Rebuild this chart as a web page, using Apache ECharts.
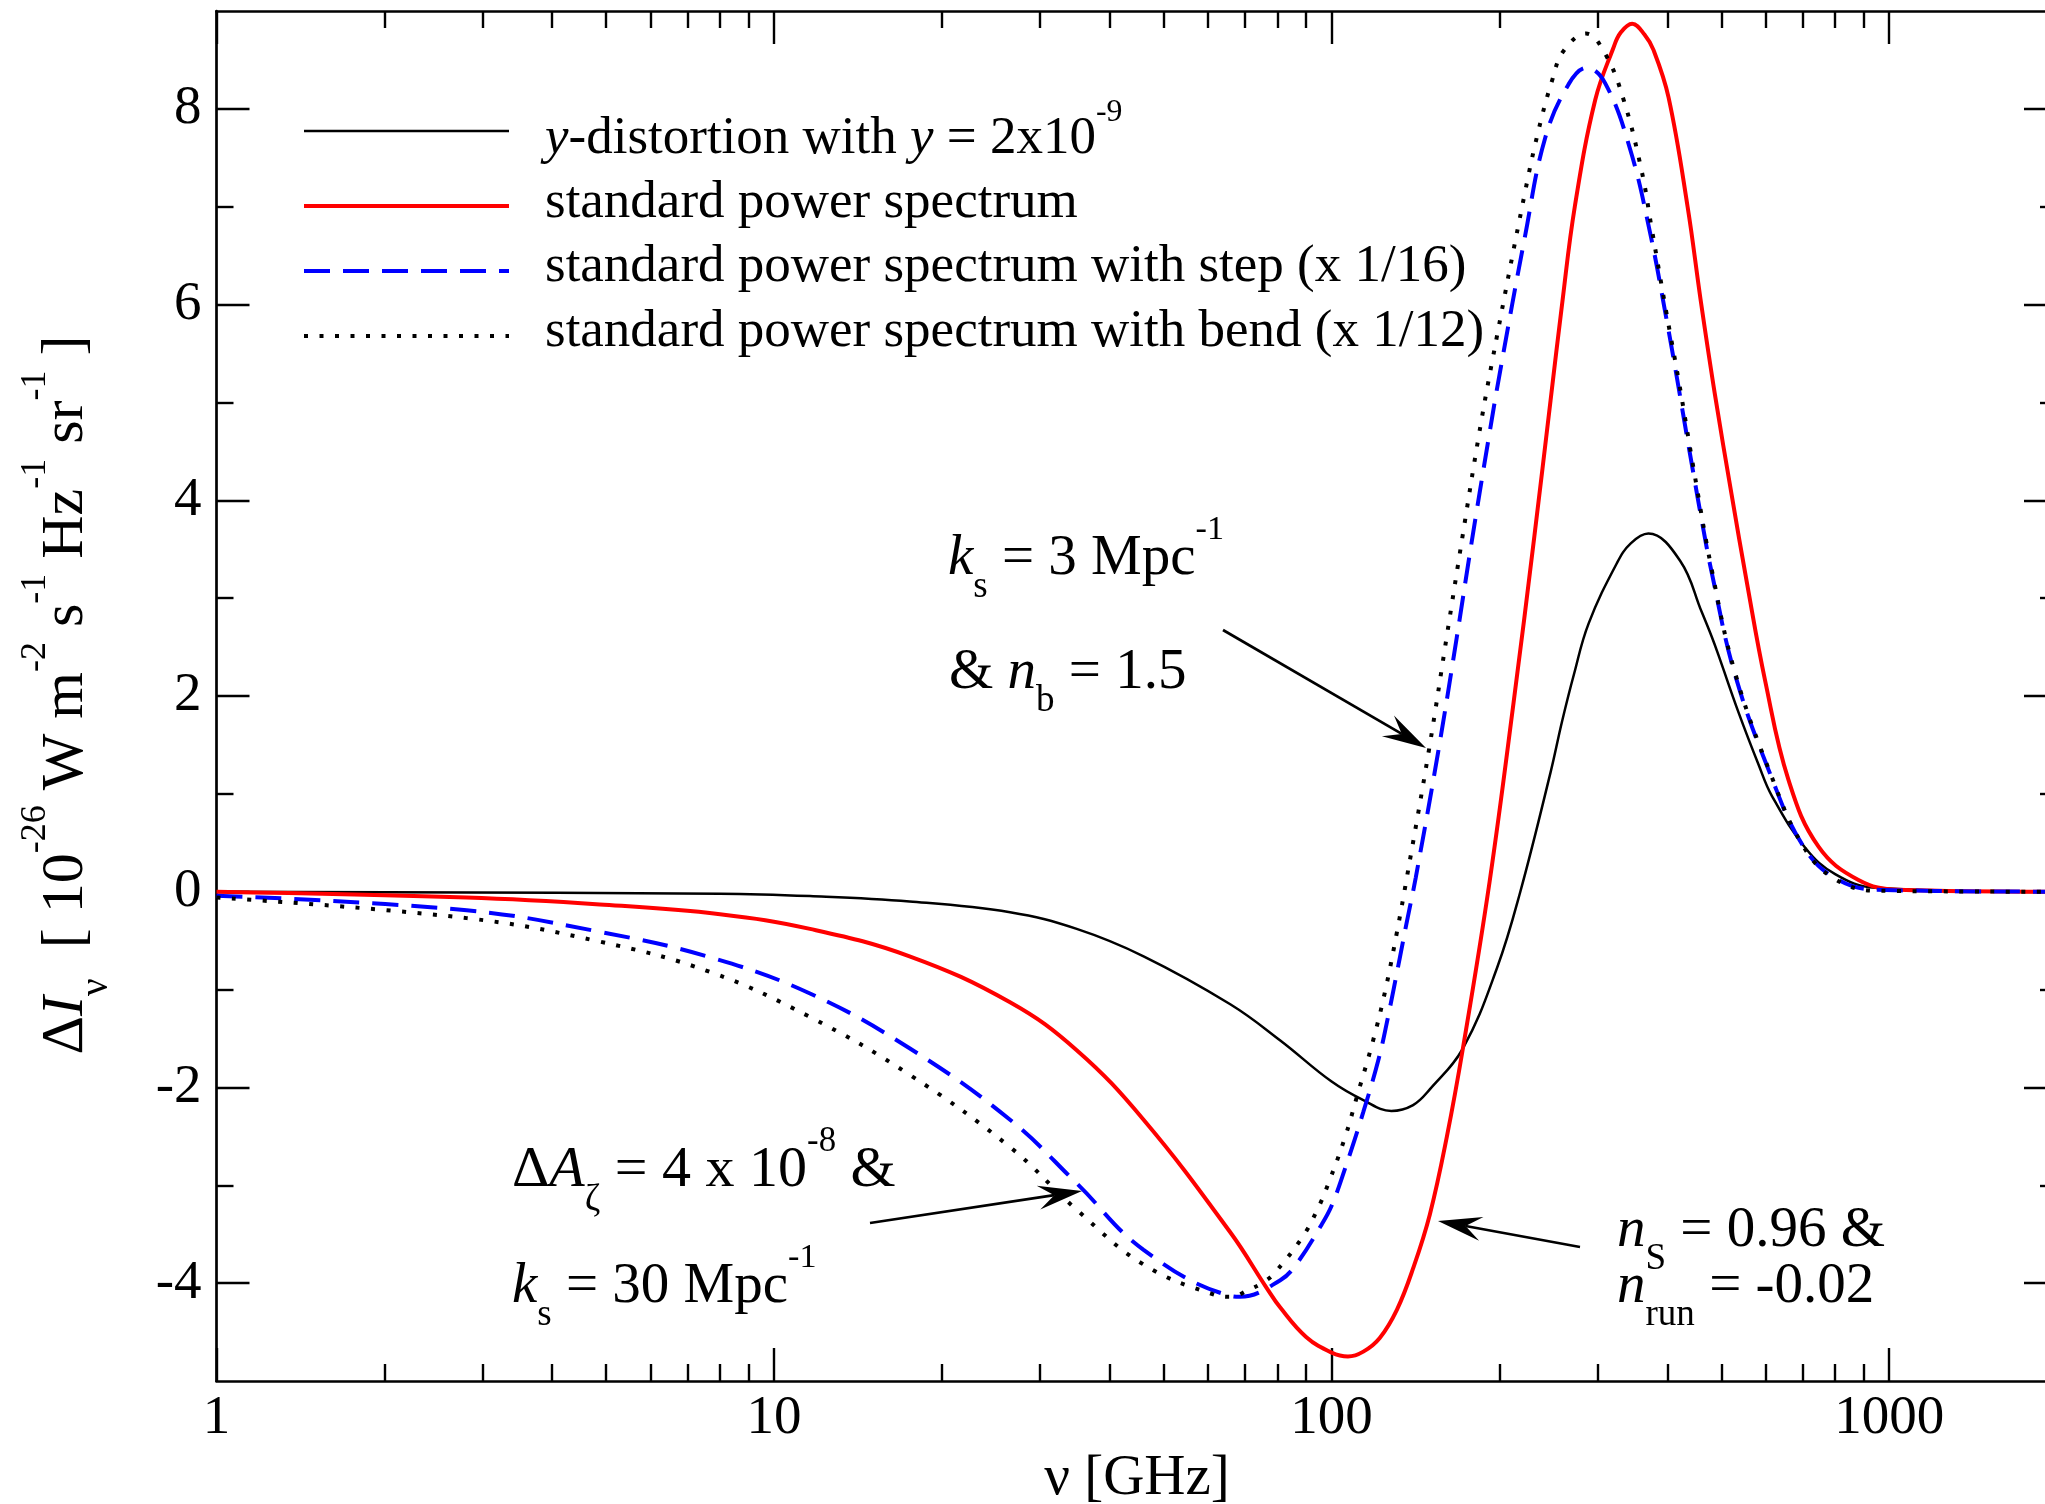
<!DOCTYPE html>
<html>
<head>
<meta charset="utf-8">
<title>Spectral distortion ΔIν</title>
<script src="https://cdn.jsdelivr.net/npm/echarts@6/dist/echarts.min.js"></script>
<style>
  html, body { margin: 0; padding: 0; background: #fff; }
  #chart { width: 2045px; height: 1504px; }
</style>
</head>
<body>
<div id="chart"></div>
<script>
const FAMILY = "'Liberation Serif', 'Times New Roman', Times, serif";

// ---------- axis ticks ----------
const xMajorTicks = [1, 10, 100, 1000];
const xMinorTicks = [2, 3, 4, 5, 6, 7, 8, 9, 20, 30, 40, 50, 60, 70, 80, 90,
                     200, 300, 400, 500, 600, 700, 800, 900, 2000];
const yMajorTicks = [-4, -2, 0, 2, 4, 6, 8];
const yMinorTicks = [-3, -1, 1, 3, 5, 7];

// ---------- series: frequency [GHz] and ΔI [1e-26 W m^-2 s^-1 Hz^-1 sr^-1] ----------
const nuYDist = [1, 8, 11.6, 17.5, 26.5, 34.9, 46, 65.8, 80.9, 100, 114, 128, 140, 150, 172, 198,
                 218, 247, 259, 272, 289, 325, 344, 370, 422, 461, 481, 494, 537, 583, 616, 707, 800, 944, 1905, 2000];
const dIYDist = [0, -0.02, -0.045, -0.1, -0.21, -0.38, -0.66, -1.15, -1.52, -1.94, -2.13, -2.24, -2.18, -2.02, -1.6, -0.78,
                 0, 1.22, 1.74, 2.22, 2.74, 3.36, 3.56, 3.66, 3.38, 2.86, 2.6, 2.42, 1.83, 1.3, 0.98, 0.45, 0.18, 0.04, 0, 0];

const nuStandard = [1, 2.81, 4.87, 8, 11.6, 17.5, 26.5, 34.9, 46, 65.8, 76.5, 80.9, 90, 100, 107, 114, 122, 131,
                    140, 150, 161, 172, 192, 212, 231, 247, 259, 273, 297, 320, 330, 346, 364, 378, 402, 435, 459, 487, 522,
                    556, 599, 660, 747, 881, 1039, 2000];
const dIStandard = [0, -0.06, -0.13, -0.23, -0.38, -0.66, -1.13, -1.62, -2.33, -3.48, -4.05, -4.25, -4.55, -4.71, -4.75, -4.7, -4.56, -4.27,
                    -3.85, -3.3, -2.5, -1.6, 0.1, 1.93, 3.63, 5.02, 6.0, 7.0, 8.09, 8.62, 8.78, 8.87, 8.76, 8.6, 8.12, 7.0, 6.05, 5.08, 4.05,
                    3.15, 2.16, 1.14, 0.46, 0.12, 0.02, 0];

const nuStep = [1, 2.81, 4.87, 7.68, 11.6, 17.5, 26.5, 34.9, 46, 65.8, 68.5, 80.9, 86.6, 96, 100, 105.7, 114,
                121.3, 125.6, 132.7, 136.4, 141.5, 155.4, 167.7, 177.7, 191.1, 200, 222.3, 241.5, 266, 287,
                309.6, 343, 373, 399, 416, 430, 446, 461, 481, 529, 616, 697, 789, 944, 2000];
const dIStep = [-0.04, -0.19, -0.41, -0.67, -1.04, -1.6, -2.33, -2.98, -3.66, -4.13, -4.14, -3.97, -3.8, -3.4, -3.21, -2.83, -2.25,
                -1.72, -1.34, -0.66, -0.31, 0.14, 1.44, 2.6, 3.52, 4.62, 5.28, 6.7, 7.7, 8.25, 8.42,
                8.26, 7.59, 6.72, 5.84, 5.26, 4.78, 4.26, 3.8, 3.25, 2.22, 1.16, 0.49, 0.16, 0.02, 0];

const nuBend = [1, 2.81, 4.87, 7.68, 11.6, 17.5, 26.5, 34.9, 46, 61.8, 66, 70.9, 75, 78.6, 88.4, 94.1, 98.7,
                105.7, 111.2, 118.7, 124.7, 130.9, 136.4, 149.6, 160.9, 171.7, 183.4, 193.8, 222.3, 235,
                248.3, 260.5, 286, 309.6, 333.7, 360, 375, 399, 420, 446, 481, 529, 616, 697, 789, 944, 2000];
const dIBend = [-0.06, -0.27, -0.51, -0.82, -1.28, -1.87, -2.61, -3.25, -3.81, -4.12, -4.14, -4.07, -4.0, -3.91, -3.54, -3.26, -2.98,
                -2.51, -2.08, -1.52, -1.02, -0.42, 0.14, 1.46, 2.61, 3.63, 4.64, 5.4, 7.15, 7.78,
                8.28, 8.59, 8.77, 8.56, 8.1, 7.36, 6.78, 5.9, 5.2, 4.32, 3.28, 2.24, 1.17, 0.49, 0.15, 0.01, 0];

const zip = (xs, ys) => xs.map((x, i) => [x, ys[i]]);

// ---------- line styles shared by curves and legend samples ----------
const STY_YDIST = { color: '#000000', width: 2.5, dash: null };
const STY_STD   = { color: '#ff0000', width: 4,   dash: null };
const STY_STEP  = { color: '#0000ff', width: 4,   dash: [26, 13] };
const STY_BEND  = { color: '#000000', width: 4,   dash: [4, 11.5] };

// ---------- text helpers: runs with italics, sub- and superscripts ----------
const mctx = document.createElement('canvas').getContext('2d');
mctx.font = '100px ' + FAMILY;
mctx.textBaseline = 'middle';
const MID2BASE = mctx.measureText('H').actualBoundingBoxDescent / 100;
mctx.textBaseline = 'alphabetic';

const SUP_SCALE = 0.6, SUP_SHIFT = 0.62, SUB_SCALE = 0.65, SUB_SHIFT = 0.4;

function fontOf(size, italic) {
  return (italic ? 'italic ' : '') + size.toFixed(2) + 'px ' + FAMILY;
}
function layoutRun(parts, size) {
  let cx = 0;
  const out = [];
  for (const [t, kind] of parts) {
    const sup = kind.indexOf('^') >= 0, sub = kind.indexOf('_') >= 0, it = kind.indexOf('i') >= 0;
    const fs = sup ? size * SUP_SCALE : sub ? size * SUB_SCALE : size;
    const dy = sup ? -size * SUP_SHIFT : sub ? size * SUB_SHIFT : 0;
    const font = fontOf(fs, it);
    mctx.font = font;
    const w = mctx.measureText(t).width;
    out.push({ t, font, x: cx, y: dy - fs * MID2BASE });
    cx += w;
  }
  return { pieces: out, width: cx };
}
// x,y: start of the baseline (or its centre when anchor === 'center')
function textRun(x, y, parts, size, opts) {
  opts = opts || {};
  const { pieces, width } = layoutRun(parts, size);
  const shift = opts.anchor === 'center' ? -width / 2 : 0;
  return {
    type: 'group', x, y, rotation: opts.rotation || 0, silent: true, z: 100,
    children: pieces.map(p => ({
      type: 'text', x: p.x + shift, y: p.y,
      style: { text: p.t, font: p.font, fill: '#000',
               align: 'left', verticalAlign: 'middle',
               textAlign: 'left', textVerticalAlign: 'middle' }
    }))
  };
}
function arrow(x1, y1, x2, y2) {
  const dx = x2 - x1, dy = y2 - y1, L = Math.hypot(dx, dy);
  const ux = dx / L, uy = dy / L, px = -uy, py = ux;
  const HL = 44, HW = 12, NOTCH = 28;
  const bx = x2 - ux * HL, by = y2 - uy * HL;
  const nx = x2 - ux * NOTCH, ny = y2 - uy * NOTCH;
  return [
    { type: 'line', silent: true, z: 100, shape: { x1, y1, x2: nx, y2: ny },
      style: { stroke: '#000', lineWidth: 2.7 } },
    { type: 'polygon', silent: true, z: 100,
      shape: { points: [[x2, y2], [bx + px * HW, by + py * HW], [nx, ny], [bx - px * HW, by - py * HW]] },
      style: { fill: '#000' } }
  ];
}
function legendSample(y, sty) {
  return { type: 'line', silent: true, z: 100,
           shape: { x1: 304, y1: y, x2: 509, y2: y },
           style: { stroke: sty.color, lineWidth: sty.width, lineDash: sty.dash || null, lineCap: 'butt' } };
}

// ---------- axes ----------
function xAxisDef(position, ticks, len, withLine, withLabels) {
  return {
    type: 'log', logBase: 10, min: 1, max: 2000, position,
    axisLine: { show: withLine, onZero: false, lineStyle: { color: '#000', width: 2.7 } },
    axisTick: { show: true, inside: true, length: len, customValues: ticks,
                lineStyle: { color: '#000', width: 2.4 } },
    axisLabel: withLabels
      ? { show: true, customValues: ticks, margin: 10, color: '#000', fontFamily: FAMILY, fontSize: 55,
          formatter: v => String(Math.round(v)) }
      : { show: false },
    splitLine: { show: false }, minorTick: { show: false }, minorSplitLine: { show: false }
  };
}
function yAxisDef(position, ticks, len, withLine, withLabels) {
  return {
    type: 'value', min: -5, max: 9, position,
    axisLine: { show: withLine, onZero: false, lineStyle: { color: '#000', width: 2.7 } },
    axisTick: { show: true, inside: true, length: len, customValues: ticks,
                lineStyle: { color: '#000', width: 2.4 } },
    axisLabel: withLabels
      ? { show: true, customValues: ticks, margin: 15, color: '#000', fontFamily: FAMILY, fontSize: 55 }
      : { show: false },
    splitLine: { show: false }, minorTick: { show: false }, minorSplitLine: { show: false }
  };
}

function curve(name, nu, dI, sty, z) {
  return {
    type: 'line', name, xAxisIndex: 0, yAxisIndex: 0, data: zip(nu, dI),
    symbol: 'none', showSymbol: false, smooth: 0.4, z,
    lineStyle: { color: sty.color, width: sty.width, type: sty.dash || 'solid', cap: 'butt' },
    emphasis: { disabled: true }
  };
}

// ---------- labels and annotations ----------
const graphics = [
  // legend
  legendSample(131, STY_YDIST),
  legendSample(206, STY_STD),
  legendSample(271, STY_STEP),
  legendSample(336, STY_BEND),
  textRun(545, 154, [['y', 'i'], ['-distortion with ', ''], ['y', 'i'], [' = 2x10', ''], ['-9', '^']], 53),
  textRun(545, 218, [['standard power spectrum', '']], 53),
  textRun(545, 282, [['standard power spectrum with step (x 1/16)', '']], 53),
  textRun(545, 347, [['standard power spectrum with bend (x 1/12)', '']], 53),

  // annotations
  textRun(948, 575, [['k', 'i'], ['s', '_'], [' = 3 Mpc', ''], ['-1', '^']], 57),
  textRun(949, 689, [['& ', ''], ['n', 'i'], ['b', '_'], [' = 1.5', '']], 57),
  ...arrow(1223, 630, 1426, 748),

  textRun(512, 1187, [['Δ', ''], ['A', 'i'], ['ζ', '_'], [' = 4 x 10', ''], ['-8', '^'], [' &', '']], 58),
  textRun(512, 1303, [['k', 'i'], ['s', '_'], [' = 30 Mpc', ''], ['-1', '^']], 57),
  ...arrow(870, 1223, 1082, 1191),

  textRun(1617, 1247, [['n', 'i'], ['S', '_'], [' = 0.96 &', '']], 57),
  textRun(1617, 1303, [['n', 'i'], ['run', '_'], [' = -0.02', '']], 57),
  ...arrow(1580, 1247, 1438, 1221),

  // axis titles
  textRun(1137, 1495, [['ν [GHz]', '']], 57, { anchor: 'center' }),
  textRun(83, 695, [['Δ', ''], ['I', 'i'], ['ν', '_'], ['  [ 10', ''], ['-26', '^'], [' W m', ''], ['-2', '^'],
                    [' s', ''], ['-1', '^'], [' Hz', ''], ['-1', '^'], [' sr', ''], ['-1', '^'], [' ]', '']],
          60, { anchor: 'center', rotation: Math.PI / 2 })
];

const chart = echarts.init(document.getElementById('chart'), null, { renderer: 'canvas', devicePixelRatio: 1 });
chart.setOption({
  animation: false,
  backgroundColor: '#ffffff',
  grid: { left: 216.5, top: 11, width: 1840.5, height: 1370, containLabel: false, outerBoundsMode: 'none' },
  xAxis: [
    xAxisDef('bottom', xMajorTicks, 33, true, true),
    xAxisDef('bottom', xMinorTicks, 17, false, false),
    xAxisDef('top', xMajorTicks, 33, true, false),
    xAxisDef('top', xMinorTicks, 17, false, false)
  ],
  yAxis: [
    yAxisDef('left', yMajorTicks, 33, true, true),
    yAxisDef('left', yMinorTicks, 17, false, false),
    yAxisDef('right', yMajorTicks, 33, true, false),
    yAxisDef('right', yMinorTicks, 17, false, false)
  ],
  series: [
    curve('y-distortion with y = 2x10^-9', nuYDist, dIYDist, STY_YDIST, 2),
    curve('standard power spectrum', nuStandard, dIStandard, STY_STD, 3),
    curve('standard power spectrum with step (x 1/16)', nuStep, dIStep, STY_STEP, 4),
    curve('standard power spectrum with bend (x 1/12)', nuBend, dIBend, STY_BEND, 5)
  ],
  graphic: { elements: graphics }
});
</script>
</body>
</html>
